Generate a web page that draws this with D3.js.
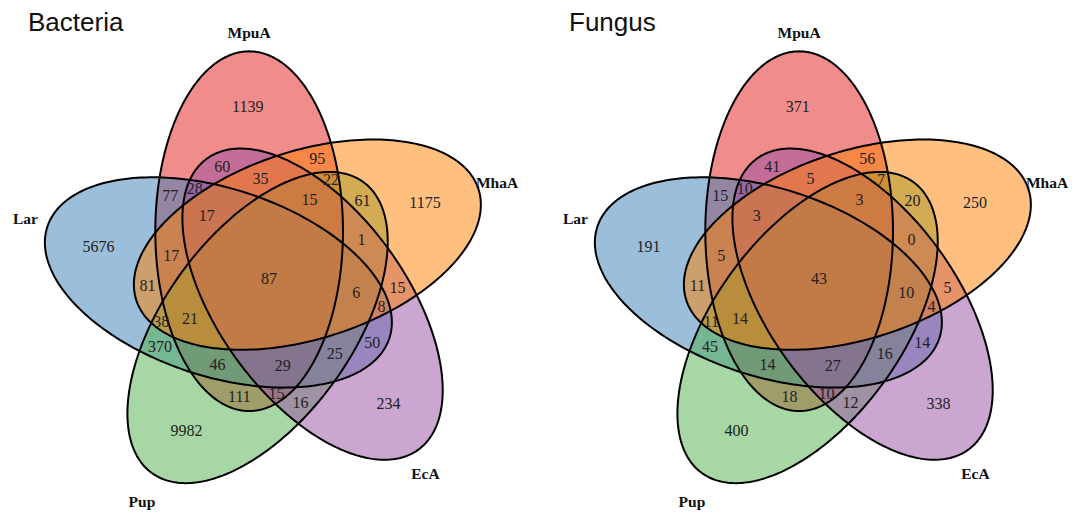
<!DOCTYPE html>
<html>
<head>
<meta charset="utf-8">
<script src="https://cdn.jsdelivr.net/npm/d3@7"></script>
<style>
  body { margin: 0; background: #fff; }
  .count { font-family: "Liberation Serif", "Times New Roman", serif; font-size: 16px; fill: #222; }
  .cat { font-family: "Liberation Serif", "Times New Roman", serif; font-size: 15.5px; font-weight: bold; fill: #111; }
  .title { font-family: "Liberation Sans", Arial, sans-serif; font-size: 26px; fill: #111; }
</style>
</head>
<body>
<svg id="chart" width="1077" height="513"></svg>
<script>
// sets going round clockwise from the top
var sets = ['MpuA', 'MhaA', 'EcA', 'Pup', 'Lar'];
var setColors = ['#E41A1C', '#FF7F00', '#984EA3', '#4DAF4A', '#377EB8'];
// VennDiagram filled them in the order they were passed in
var drawOrder = ['MpuA', 'Lar', 'Pup', 'EcA', 'MhaA'];

var regions = [
  'MpuA', 'MhaA', 'EcA', 'Pup', 'Lar',
  'MpuA&MhaA', 'MpuA&EcA', 'MpuA&Pup', 'MpuA&Lar', 'MhaA&EcA',
  'MhaA&Pup', 'MhaA&Lar', 'EcA&Pup', 'EcA&Lar', 'Pup&Lar',
  'MpuA&MhaA&EcA', 'MpuA&MhaA&Pup', 'MpuA&MhaA&Lar', 'MpuA&EcA&Pup', 'MpuA&EcA&Lar',
  'MpuA&Pup&Lar', 'MhaA&EcA&Pup', 'MhaA&EcA&Lar', 'MhaA&Pup&Lar', 'EcA&Pup&Lar',
  'MpuA&MhaA&EcA&Pup', 'MpuA&MhaA&EcA&Lar', 'MpuA&MhaA&Pup&Lar', 'MpuA&EcA&Pup&Lar', 'MhaA&EcA&Pup&Lar',
  'MpuA&MhaA&EcA&Pup&Lar'
];

var bacteriaCounts = [
  1139, 1175, 234, 9982, 5676,
  95, 60, 111, 77, 15,
  61, 81, 16, 50, 370,
  35, 22, 17, 15, 28,
  46, 1, 8, 38, 25,
  15, 17, 21, 29, 6,
  87
];

var fungusCounts = [
  371, 250, 338, 400, 191,
  56, 41, 18, 15, 5,
  20, 11, 12, 14, 45,
  5, 7, 5, 10, 10,
  14, 0, 4, 11, 16,
  3, 3, 14, 27, 10,
  43
];

var panelTitles = ['Bacteria', 'Fungus'];

// ---- layout (npc units like VennDiagram) ----
var W = 1077, H = 513;
var U = 391;                       // px per npc unit
var panelCentres = [[269, 278], [819, 278]];
var titleX = [28, 569], titleY = 31;
var dist = 0.13, semiMajor = 0.46, semiMinor = 0.24;
var centreAngle0 = 113, axisAngle0 = 90;   // degrees for MpuA, others step by -72
// category label placement: angle clockwise from top, distance from ellipse tip
var catPos = [0, 72, 163, 199, 291];
var catDist = [0.047, 0.05, 0.063, 0.078, 0.06];
var centroidWeight = 0.5;          // mix of region centroid and deepest point

var rad = Math.PI / 180;
var geom = sets.map(function(s, i) {
  var ca = (centreAngle0 - 72 * i) * rad, aa = (axisAngle0 - 72 * i) * rad;
  return {
    name: s,
    x: 0.5 + dist * Math.cos(ca),
    y: 0.5 + dist * Math.sin(ca),
    cos: Math.cos(aa),
    sin: Math.sin(aa)
  };
});

function ellipsePoints(e) {
  var pts = [];
  for (var k = 0; k < 240; k++) {
    var t = 2 * Math.PI * k / 240;
    var u = semiMajor * Math.cos(t), w = semiMinor * Math.sin(t);
    pts.push([e.x + u * e.cos - w * e.sin, e.y + u * e.sin + w * e.cos]);
  }
  return pts;
}

function signedDist(e, x, y) {
  var dx = x - e.x, dy = y - e.y;
  var u = dx * e.cos + dy * e.sin, w = -dx * e.sin + dy * e.cos;
  var a2 = semiMajor * semiMajor, b2 = semiMinor * semiMinor;
  var f = Math.sqrt(u * u / a2 + w * w / b2);
  if (f < 1e-9) return -semiMinor;
  var g = Math.sqrt(Math.pow(u / a2, 2) + Math.pow(w / b2, 2)) / f;
  return (f - 1) / g;
}

// deepest point and centroid of every region, on a grid
var best = {};
var step = 0.002;
for (var gx = -0.2; gx <= 1.2; gx += step) {
  for (var gy = -0.2; gy <= 1.2; gy += step) {
    var inside = [], depth = Infinity;
    for (var i = 0; i < geom.length; i++) {
      var sd = signedDist(geom[i], gx, gy);
      if (sd < 0) inside.push(geom[i].name);
      depth = Math.min(depth, Math.abs(sd));
    }
    if (!inside.length) continue;
    var key = inside.join('&');
    var b = best[key] || (best[key] = {x: 0, y: 0, d: -1, sx: 0, sy: 0, n: 0});
    if (depth > b.d) { b.x = gx; b.y = gy; b.d = depth; }
    b.sx += gx; b.sy += gy; b.n += 1;
  }
}
function labelPos(r) {
  var b = best[r];
  return [
    (1 - centroidWeight) * b.x + centroidWeight * b.sx / b.n,
    (1 - centroidWeight) * b.y + centroidWeight * b.sy / b.n
  ];
}

var svg = d3.select('#chart');
svg.append('rect').attr('width', W).attr('height', H).attr('fill', '#fff');

[bacteriaCounts, fungusCounts].forEach(function(counts, p) {
  var c = panelCentres[p];
  var x = d3.scaleLinear().domain([0, 1]).range([c[0] - U / 2, c[0] + U / 2]);
  var y = d3.scaleLinear().domain([0, 1]).range([c[1] + U / 2, c[1] - U / 2]);
  var line = d3.line().x(function(d) { return x(d[0]); }).y(function(d) { return y(d[1]); })
      .curve(d3.curveLinearClosed);

  var g = svg.append('g').attr('class', 'panel');
  var ordered = drawOrder.map(function(n) { return geom[sets.indexOf(n)]; });

  g.selectAll('path.fill').data(ordered).enter().append('path')
      .attr('class', 'fill')
      .attr('d', function(e) { return line(ellipsePoints(e)); })
      .attr('fill', function(e) { return setColors[sets.indexOf(e.name)]; })
      .attr('fill-opacity', 0.5)
      .attr('stroke', 'none');

  g.selectAll('path.edge').data(ordered).enter().append('path')
      .attr('class', 'edge')
      .attr('d', function(e) { return line(ellipsePoints(e)); })
      .attr('fill', 'none')
      .attr('stroke', '#000')
      .attr('stroke-width', 2);

  g.selectAll('text.count').data(regions).enter().append('text')
      .attr('class', 'count')
      .attr('x', function(r) { return x(labelPos(r)[0]); })
      .attr('y', function(r) { return y(labelPos(r)[1]); })
      .attr('dy', '0.35em')
      .attr('text-anchor', 'middle')
      .text(function(r, i) { return counts[i]; });

  g.selectAll('text.cat').data(geom).enter().append('text')
      .attr('class', 'cat')
      .attr('x', function(e, i) { return x(e.x + semiMajor * e.cos + catDist[i] * Math.sin(catPos[i] * rad)); })
      .attr('y', function(e, i) { return y(e.y + semiMajor * e.sin + catDist[i] * Math.cos(catPos[i] * rad)); })
      .attr('dy', '0.35em')
      .attr('text-anchor', 'middle')
      .text(function(e) { return e.name; });

  svg.append('text')
      .attr('class', 'title')
      .attr('x', titleX[p])
      .attr('y', titleY)
      .text(panelTitles[p]);
});
</script>
</body>
</html>
